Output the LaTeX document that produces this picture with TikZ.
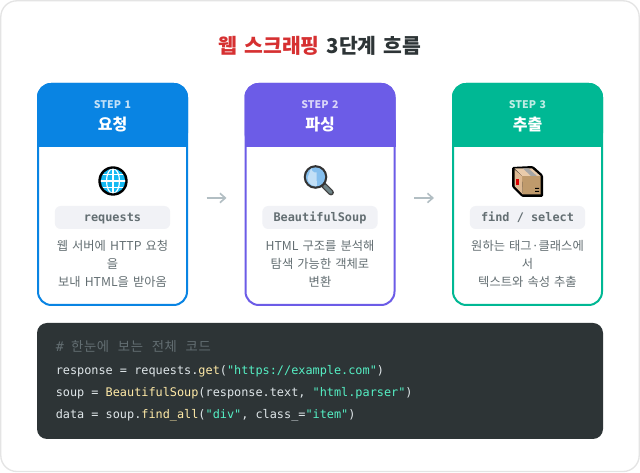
\documentclass[tikz,border=0pt]{standalone}
\usepackage{fontspec}
\setmainfont[WordSpace=1.5]{Noto Sans CJK KR}
\setmonofont{DejaVu Sans Mono}
\newfontfamily\cmtfont[LetterSpace=5]{Noto Sans CJK KR}
\usetikzlibrary{arrows.meta}
\definecolor{cblue}{HTML}{0984E3}
\definecolor{cpurple}{HTML}{6C5CE7}
\definecolor{cgreen}{HTML}{00B894}
\definecolor{cdark}{HTML}{2D3436}
\definecolor{cred}{HTML}{D63031}
\definecolor{cgray}{HTML}{636E72}
\definecolor{cbadge}{HTML}{F1F2F6}
\definecolor{carrow}{HTML}{B2BEC3}
\definecolor{cedge}{HTML}{E4E4E4}
\definecolor{ctxt}{HTML}{DFE6E9}
\definecolor{cfn}{HTML}{FFEAA7}
\definecolor{cstr}{HTML}{55EFC4}
\definecolor{BoxTop}{HTML}{E9CBAB}
\definecolor{BoxSide}{HTML}{DDB993}
\definecolor{BoxFront}{HTML}{BF9A6C}
\definecolor{Globe}{HTML}{15BAF3}
\definecolor{Lens}{HTML}{85BFEE}
\definecolor{Handle}{HTML}{6F8488}
\newcommand{\fs}[1]{\fontsize{#1}{#1}\selectfont}
\tikzset{
 x=0.75pt,y=-0.75pt,
 stepnum/.style={font=\bfseries\fs{7.9},text=white,text opacity=.75,inner sep=0,anchor=base},
 stepname/.style={font=\bfseries\fs{12},text=white,inner sep=0},
 badge/.style={fill=cbadge,rounded corners=4.5pt,minimum width=86.5pt,minimum height=17.25pt,inner sep=0},
 badgetext/.style={font=\ttfamily\bfseries\fs{8.9},text=cgray,inner sep=0,anchor=base},
 desc/.style={font=\fs{9.2},text=cgray,align=center,inner sep=0,anchor=base},
 flow/.style={draw=carrow,line width=1.5pt,-{Straight Barb[length=4pt,width=7pt,line width=1.2pt]}},
 code/.style={font=\ttfamily\fs{8.89},anchor=base west,inner sep=0,text=ctxt},
}
\newcommand{\card}[3]{% name, left x, color
 \fill[#3,rounded corners=10.5pt] (#2,83) -- ++(151,0) -- ++(0,64) -- ++(-151,0) -- cycle;
 \fill[#3] (#2,120) rectangle ++(151,27);
 \draw[#3,line width=1.5pt,rounded corners=10pt] (#2+1,84) rectangle (#2+150,305);
}
\begin{document}
\begin{tikzpicture}
\useasboundingbox (0,0) rectangle (640,473);
\draw[cedge,line width=1pt,fill=white,rounded corners=12pt] (0.8,0.8) rectangle (639.2,471.5);
\node[inner sep=0,font=\bfseries\fs{15.3}] (title) at (320,46) {\textcolor{cred}{웹 스크래핑} \textcolor{cdark}{3단계 흐름}};

% cards
\card{c1}{37}{cblue}
\card{c2}{244.5}{cpurple}
\card{c3}{452}{cgreen}

\node[stepnum] (s1) at (112.5,109) {STEP 1};
\node[stepname] (n1) at (112.5,124.5) {요청};
\node[stepnum] (s2) at (320,109) {STEP 2};
\node[stepname] (n2) at (320,124.5) {파싱};
\node[stepnum] (s3) at (527.5,109) {STEP 3};
\node[stepname] (n3) at (527.5,124.5) {추출};

% globe
\begin{scope}[shift={(113,181)}]
 \fill[black] (0,0) circle[radius=14.7];
 \fill[Globe] (0,0) circle[radius=12.2];
 \begin{scope}
  \clip (0,0) circle[radius=12.2];
  \draw[white,line width=.9pt] (0,-13)--(0,13) (-13,0)--(13,0) (-13,-6.5)--(13,-6.5) (-13,6.5)--(13,6.5);
  \draw[white,line width=.9pt] (0,0) ellipse[x radius=6.5,y radius=12.5];
 \end{scope}
\end{scope}

% magnifier
\begin{scope}[shift={(315.5,177)}]
 \draw[black!75,line width=4.4pt,line cap=round] (8,8)--(15.5,15.5);
 \draw[Handle,line width=2.6pt,line cap=round] (9,9)--(15.5,15.5);
 \fill[black!80] (0,0) circle[radius=11.8];
 \fill[Lens] (0,0) circle[radius=9.6];
 \fill[white,opacity=.5] (-8,1) arc[start angle=180,end angle=80,radius=8] -- (1,-4.5) arc[start angle=80,end angle=180,radius=4.5] -- cycle;
\end{scope}

% package
\begin{scope}[shift={(512,166)}]
 \fill[black,rounded corners=1pt] (0,1)--(21,0)--(31,9)--(31,31)--(10,31)--(0,21)--cycle;
 \fill[BoxFront] (10,10)--(28.5,10)--(28.5,28.5)--(10.8,28.5)--cycle;
 \fill[BoxSide] (2.5,3.5)--(10,10)--(10.8,28.5)--(2.5,20)--cycle;
 \fill[BoxTop] (2.5,2.5)--(20,2.5)--(28.5,10)--(10,10)--cycle;
 \fill[gray!70] (11,2.5)--(16.5,2.5)--(25,10)--(19,10)--cycle;
 \fill[red!85!black] (4,13) rectangle (7,19);
 \fill[black] (23,22) rectangle (27,23) (23,25) rectangle (27,26);
\end{scope}

% badges
\node[badge] (b1) at (112.5,217.5) {};
\node[badgetext] (t1) at (112.5,222) {requests};
\node[badge] (b2) at (320,217.5) {};
\node[badgetext] (t2) at (320,222) {BeautifulSoup};
\node[badge] (b3) at (527.5,217.5) {};
\node[badgetext] (t3) at (527.5,222) {find / select};

% descriptions
\node[desc] (d11) at (112.5,250.5) {웹 서버에 HTTP 요청};
\node[desc] (d12) at (112.5,268.5) {을};
\node[desc] (d13) at (112.5,286.5) {보내 HTML을 받아옴};
\node[desc] (d21) at (320,250.5) {HTML 구조를 분석해};
\node[desc] (d22) at (320,268.5) {탐색 가능한 객체로};
\node[desc] (d23) at (320,286.5) {변환};
\node[desc] (d31) at (527.5,250.5) {원하는 태그·클래스에};
\node[desc] (d32) at (527.5,268.5) {서};
\node[desc] (d33) at (527.5,286.5) {텍스트와 속성 추출};

% connectors
\coordinate (a1) at (206.5,198);
\coordinate (a2) at (226.5,198);
\coordinate (a3) at (414,198);
\coordinate (a4) at (434,198);
\draw[flow] (a1)--(a2);
\draw[flow] (a3)--(a4);

% code
\fill[cdark,rounded corners=7.5pt] (37,323) rectangle (603,439);
\node[code,text=cgray,font=\cmtfont\fs{10}] (k0) at (55.5,352) {\texttt{\#}\hspace{5.5pt}한눈에\hspace{6.5pt}보는\hspace{6.5pt}전체\hspace{6.5pt}코드};
\node[code] (k1) at (55.5,374.5) {response = requests.\textcolor{cfn}{get}(\textcolor{cstr}{"https://example.com"})};
\node[code] (k2) at (55.5,396.5) {soup = \textcolor{cfn}{BeautifulSoup}(response.text, \textcolor{cstr}{"html.parser"})};
\node[code] (k3) at (55.5,418.5) {data = soup.\textcolor{cfn}{find\_all}(\textcolor{cstr}{"div"}, class\_=\textcolor{cstr}{"item"})};
\end{tikzpicture}
\end{document}
